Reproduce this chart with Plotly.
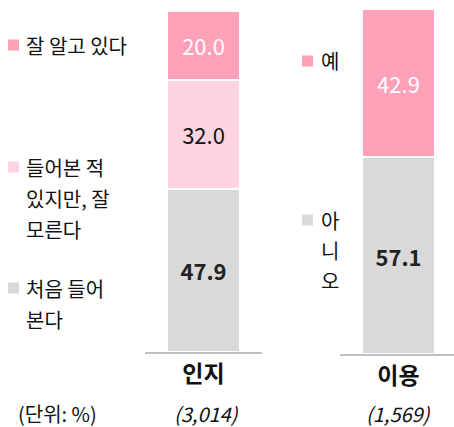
import plotly.graph_objects as go

# ---- data ----
cat_left = ["인지"]
cat_right = ["이용"]
well_known = [20.0]
heard_unsure = [32.0]
first_heard = [47.9]
yes_vals = [42.9]
no_vals = [57.1]
sample_left = "(3,014)"
sample_right = "(1,569)"
unit_label = "(단위: %)"
legend_left = [["잘 알고 있다"], ["들어본 적", "있지만, 잘", "모른다"], ["처음 들어", "본다"]]
legend_right = [["예"], ["아", "니", "오"]]

PINK = "#FFA1B8"
LIGHT = "#FFD3DF"
GRAY = "#D9D9D9"
FONT = "Noto Sans CJK KR"
W, H = 454, 427


def px(x):
    return x / W


def py(y):
    return 1 - y / H


fig = go.Figure()

def add_bar(x, y, color, name, axis, tcolor, bold, width):
    tmpl = "<b>%{y:.1f}</b>" if bold else "%{y:.1f}"
    fig.add_trace(go.Bar(
        x=x, y=y, name=name, marker=dict(color=color, line=dict(color="white", width=2)),
        width=width, texttemplate=tmpl, textposition="inside", insidetextanchor="middle",
        textfont=dict(color=tcolor, size=22, family=FONT), textangle=0,
        xaxis="x" + axis if axis else "x", yaxis="y" + axis if axis else "y",
        showlegend=False, cliponaxis=False, hoverinfo="skip"))

add_bar(cat_left, first_heard, GRAY, "처음 들어 본다", "", "#222222", True, 0.625)
add_bar(cat_left, heard_unsure, LIGHT, "들어본 적 있지만, 잘 모른다", "", "#111111", False, 0.625)
add_bar(cat_left, well_known, PINK, "잘 알고 있다", "", "white", False, 0.625)
add_bar(cat_right, no_vals, GRAY, "아니오", "2", "#222222", True, 0.64)
add_bar(cat_right, yes_vals, PINK, "예", "2", "white", False, 0.64)

axis_common = dict(showgrid=False, zeroline=False, showline=True, linecolor="#BFBFBF",
                   linewidth=2, ticks="", fixedrange=True,
                   tickfont=dict(size=23, family=FONT, color="#111111"))
fig.update_layout(
    barmode="stack",
    width=W, height=H, margin=dict(l=0, r=0, t=0, b=0),
    paper_bgcolor="white", plot_bgcolor="white",
    font=dict(family=FONT),
    xaxis=dict(domain=[px(145), px(262)], range=[-0.5, 0.5], anchor="y",
               tickvals=cat_left, ticktext=["<b>" + c + "</b>" for c in cat_left], **axis_common),
    yaxis=dict(domain=[py(352), py(11)], range=[0, 100], visible=False, fixedrange=True),
    xaxis2=dict(domain=[px(340), 1], range=[-0.513, 0.487], anchor="y2",
                tickvals=cat_right, ticktext=["<b>" + c + "</b>" for c in cat_right], **axis_common),
    yaxis2=dict(domain=[py(354), py(9)], range=[0, 100], visible=False, fixedrange=True),
)

annos = []
shapes = []

def text(x, y, s, size=20, italic=False, anchor="left"):
    annos.append(dict(x=px(x), y=py(y), xref="paper", yref="paper", text=s, showarrow=False,
                      xanchor=anchor, yanchor="middle",
                      font=dict(family=FONT, size=size, color="#111111",
                                style="italic" if italic else "normal")))

def square(x, y, color, s=11):
    shapes.append(dict(type="rect", xref="paper", yref="paper", x0=px(x), x1=px(x + s),
                       y0=py(y + s / 2), y1=py(y - s / 2), fillcolor=color, line=dict(width=0)))

# left legend
left_colors = [PINK, LIGHT, GRAY]
left_y = [45, 167, 288]
for lines, c, y0 in zip(legend_left, left_colors, left_y):
    square(8, y0, c)
    for i, ln in enumerate(lines):
        text(24, y0 + i * 31, ln)

# right legend
right_colors = [PINK, GRAY]
right_y = [61, 220]
for lines, c, y0 in zip(legend_right, right_colors, right_y):
    square(302, y0, c)
    for i, ln in enumerate(lines):
        text(319, y0 + i * 30, ln)

text(57, 413, unit_label, size=20, anchor="center")
text(206, 413, sample_left, size=20, italic=True, anchor="center")
text(398, 413, sample_right, size=20, italic=True, anchor="center")

fig.update_layout(annotations=annos, shapes=shapes)
fig.write_html("out.html", config={"displayModeBar": False, "staticPlot": True},
               post_script="document.body.style.margin='0';document.body.style.overflow='hidden';")
